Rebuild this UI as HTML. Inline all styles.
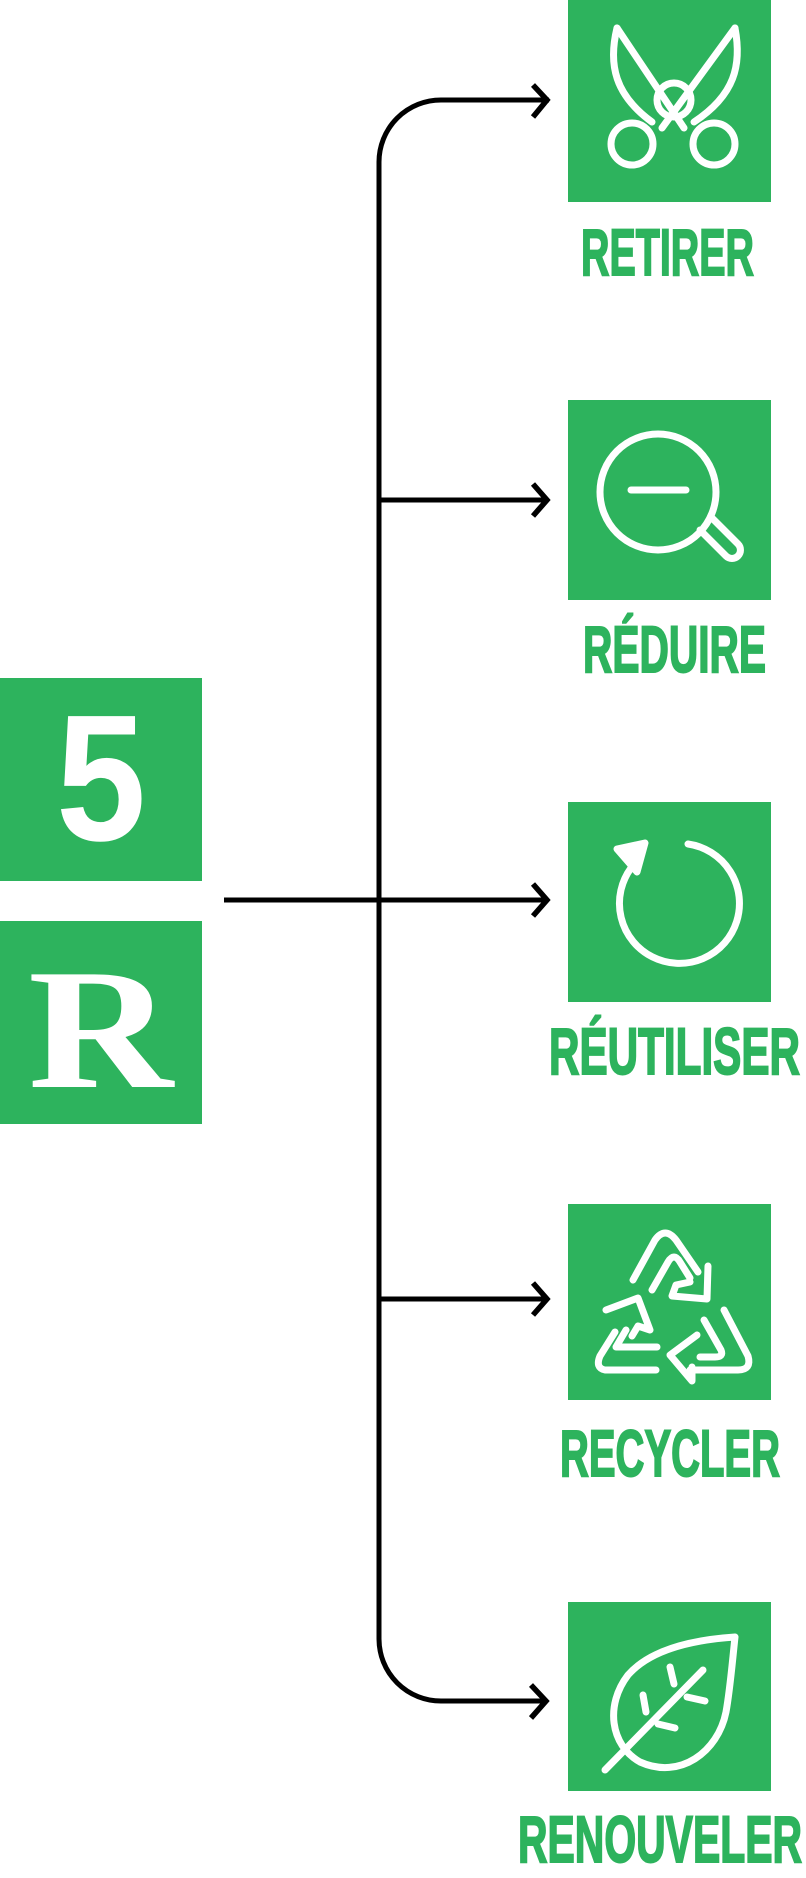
<!DOCTYPE html>
<html><head><meta charset="utf-8"><style>
html,body{margin:0;padding:0;background:#fff;width:806px;height:1878px;overflow:hidden}
svg{display:block}
.lbl{font-family:"Liberation Sans Narrow","Liberation Sans",sans-serif;font-weight:bold;fill:#2db35d;stroke:#2db35d;stroke-width:2}
.five{font-family:"Liberation Sans Narrow","Liberation Sans",sans-serif;font-weight:bold;fill:#fff}
.rr{font-family:"Liberation Serif",serif;font-weight:bold;fill:#fff}
</style></head><body>
<svg width="806" height="1878" viewBox="0 0 806 1878" xmlns="http://www.w3.org/2000/svg">
<g fill="#2db35d">
<rect x="0" y="678" width="202" height="203"/>
<rect x="0" y="921" width="202" height="203"/>
<rect x="568" y="0" width="203" height="202"/>
<rect x="568" y="400" width="203" height="200"/>
<rect x="568" y="802" width="203" height="200"/>
<rect x="568" y="1204" width="203" height="196"/>
<rect x="568" y="1602" width="203" height="189"/>
</g>
<text class="five" x="56" y="840" font-size="180" textLength="90" lengthAdjust="spacingAndGlyphs">5</text>
<text class="rr" x="28" y="1087" font-size="172" textLength="145" lengthAdjust="spacingAndGlyphs">R</text>
<!-- connectors -->
<g fill="none" stroke="#000" stroke-width="5">
<path d="M549 100 H441 A62 62 0 0 0 379 162 V1639 A62 62 0 0 0 441 1701 H547"/>
<path d="M379 500 H547"/>
<path d="M224 900 H547"/>
<path d="M379 1299 H547"/>
<g stroke-width="5.5">
<path d="M533 85 L547 100 L533 117"/>
<path d="M533 484 L547 500 L533 516"/>
<path d="M533 884 L547 900 L533 916"/>
<path d="M533 1283 L547 1299 L533 1315"/>
<path d="M531 1685 L546 1701 L531 1718"/>
</g>
</g>
<!-- icons -->
<g fill="none" stroke="#fff" stroke-width="7" stroke-linecap="round" stroke-linejoin="round">
<!-- scissors -->
<path d="M617 28 C608 65 615 95 652 122"/>
<path d="M617 28 L684 128"/>
<path d="M735 28 C742 65 735 95 694 122"/>
<path d="M735 28 L662 128"/>
<circle cx="674" cy="100" r="17"/>
<circle cx="632" cy="144" r="21"/>
<circle cx="714" cy="144" r="21"/>
<!-- magnifier -->
<circle cx="658" cy="492" r="58"/>
<path d="M631 490 H686"/>
<path d="M700 530 L726 556 A8 8 0 0 0 738 544 L712 518"/>
<!-- refresh -->
<path d="M688 844 A60 60 0 1 1 631 868"/>
<path d="M617 849 L645 843 L637 872 Z" fill="#fff"/>
<!-- recycle -->
<path d="M633 1280 L655 1240 Q665 1226 676 1240 L698 1272"/>
<path d="M652 1290 L668 1262 Q674 1252 680 1262 L690 1278"/>
<path d="M708 1266 L707 1299 L672 1296 L676 1285 L690 1282"/>
<path d="M656 1370 H605 Q595 1368 600 1356 L615 1332"/>
<path d="M606 1310 L638 1298 L650 1330 L638 1326 L632 1336"/>
<path d="M657 1347 H616 L626 1330"/>
<path d="M724 1310 L748 1356 Q752 1370 738 1370 H690"/>
<path d="M704 1320 L721 1350 Q724 1357 715 1357 H700"/>
<path d="M697 1335 L670 1355 L692 1381 L692 1367"/>
<!-- leaf -->
<path d="M735 1637 C690 1640 650 1650 628 1675 C605 1705 610 1745 640 1762 C680 1780 718 1752 726 1712 C730 1690 732 1665 735 1637 Z"/>
<path d="M703 1670 L605 1770"/>
<path d="M670 1667 L674 1684"/>
<path d="M687 1697 L705 1701"/>
<path d="M643 1695 L646 1712"/>
<path d="M658 1724 L675 1728"/>
</g>
<!-- labels -->
<text class="lbl" x="581" y="275" font-size="66" textLength="173" lengthAdjust="spacingAndGlyphs">RETIRER</text>
<text class="lbl" x="583" y="672" font-size="66" textLength="183" lengthAdjust="spacingAndGlyphs">RÉDUIRE</text>
<text class="lbl" x="549" y="1074" font-size="66" textLength="251" lengthAdjust="spacingAndGlyphs">RÉUTILISER</text>
<text class="lbl" x="560" y="1476" font-size="66" textLength="220" lengthAdjust="spacingAndGlyphs">RECYCLER</text>
<text class="lbl" x="518" y="1862" font-size="66" textLength="284" lengthAdjust="spacingAndGlyphs">RENOUVELER</text>
</svg>
</body></html>
